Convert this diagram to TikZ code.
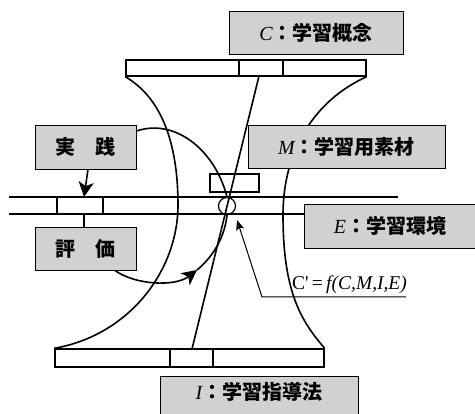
\documentclass[tikz,border=0pt]{standalone}
\usepackage{fontspec}
\setmainfont{Liberation Serif}
\newfontfamily\jpf{Noto Sans CJK JP}
\usetikzlibrary{arrows.meta}
\newcommand\boxlab[2]{{\itshape #1}{\jpf\bfseries ：#2}}
\begin{document}
\begin{tikzpicture}[x=1pt,y=-1pt,
  gbox/.style={draw, line width=0.9pt, fill=black!18, inner sep=0pt,
    font=\fontsize{20}{24}\selectfont},
  barbox/.style={draw, line width=1.4pt, fill=white, inner sep=0pt},
  barline/.style={line width=1.4pt},
  hg/.style={line width=1.6pt},
  hl/.style={line width=1.4pt},
  bigtip/.style={-{Stealth[length=15pt,width=15pt,inset=4pt]}},
  smalltip/.style={-{Stealth[length=10pt,width=8pt,inset=2pt]}}]
\clip (0,0) rectangle (475,414);
\fill[white] (0,0) rectangle (475,414);
% bars
\node[barbox, minimum width=240pt, minimum height=16pt] (tb) at (246,68) {};
\draw[barline] (239,60) -- (239,76) (283,60) -- (283,76);
\node[barbox, minimum width=269pt, minimum height=18pt] (bb) at (189.5,358) {};
\draw[barline] (170,349) -- (170,367) (213,349) -- (213,367);
% hourglass sides
\draw[hg] (tb.south west) .. controls (165,100) and (178,150) .. (178,205)
  .. controls (178,270) and (130,335) .. (bb.north west);
\draw[hg] (tb.south east) .. controls (315,100) and (283,150) .. (283,215)
  .. controls (283,290) and (300,320) .. (bb.north east);
% central line
\coordinate (tc) at (259,76);
\coordinate (bc) at (192,349);
\draw[hg] (tc) -- (bc);
% small rect and circle
\node[draw, line width=1.2pt, minimum width=49pt, minimum height=18pt, inner sep=0pt] (R) at (234.5,183) {};
\node[draw, circle, line width=1.2pt, minimum size=17pt, inner sep=0pt] (O) at (227,206) {};
% boxes
\node[gbox, minimum width=174pt, minimum height=43pt] (C) at (316,32.5) {\boxlab{C}{学習概念}};
\node[gbox, minimum width=197pt, minimum height=43pt] (M) at (346.5,146.5) {\boxlab{M}{学習用素材}};
\node[gbox, minimum width=172pt, minimum height=44pt] (E) at (390,226) {\boxlab{E}{学習環境}};
\node[gbox, anchor=base, minimum width=198pt, text height=24pt, text depth=18pt] (I) at (259,400) {\boxlab{I}{学習指導法}};
\node[gbox, minimum width=101pt, minimum height=44pt] (P) at (85.5,147) {\jpf\bfseries 実　践};
\node[gbox, minimum width=101pt, minimum height=43pt] (V) at (85.5,248.5) {\jpf\bfseries 評　価};
% horizontal lines
\coordinate (L1) at (9,197);
\coordinate (L1e) at (398,197);
\coordinate (L2) at (9,214);
\draw[hl] (L1) -- (L1e);
\draw[hl] (L2) -- (L2 -| E.west);
\draw[hl] (57,197) -- (57,214) (103,197) -- (103,214);
% cycle arcs
\draw[hg] ([yshift=16pt]P.east) .. controls (175,118) and (215,150) .. (O.north);
\coordinate (at) at (197,270);
\draw[hg, bigtip] ([xshift=29.5pt]V.south) .. controls (135,285) and (175,287) .. (at);
\draw[hg] (at) .. controls (215,255) and (225,235) .. (O.south);
\coordinate (pa) at (84,197);
\draw[hg, bigtip] ([xshift=2.5pt]P.south) -- (pa);
\coordinate (pb) at (84,214);
\draw[hg] (pb) -- (pb |- V.north);
% formula label
\node[anchor=base west, inner sep=0pt, font=\fontsize{19.5}{22}\selectfont] (F) at (292,290) {C\textquotesingle\,=\,\textit{f(C,M,I,E)}};
\coordinate (ur) at (406,297);
\coordinate (ul) at (262,297);
\coordinate (tip) at (237,220);
\draw[line width=1pt, smalltip] (ur) -- (ul) -- (tip);
\end{tikzpicture}
\end{document}
